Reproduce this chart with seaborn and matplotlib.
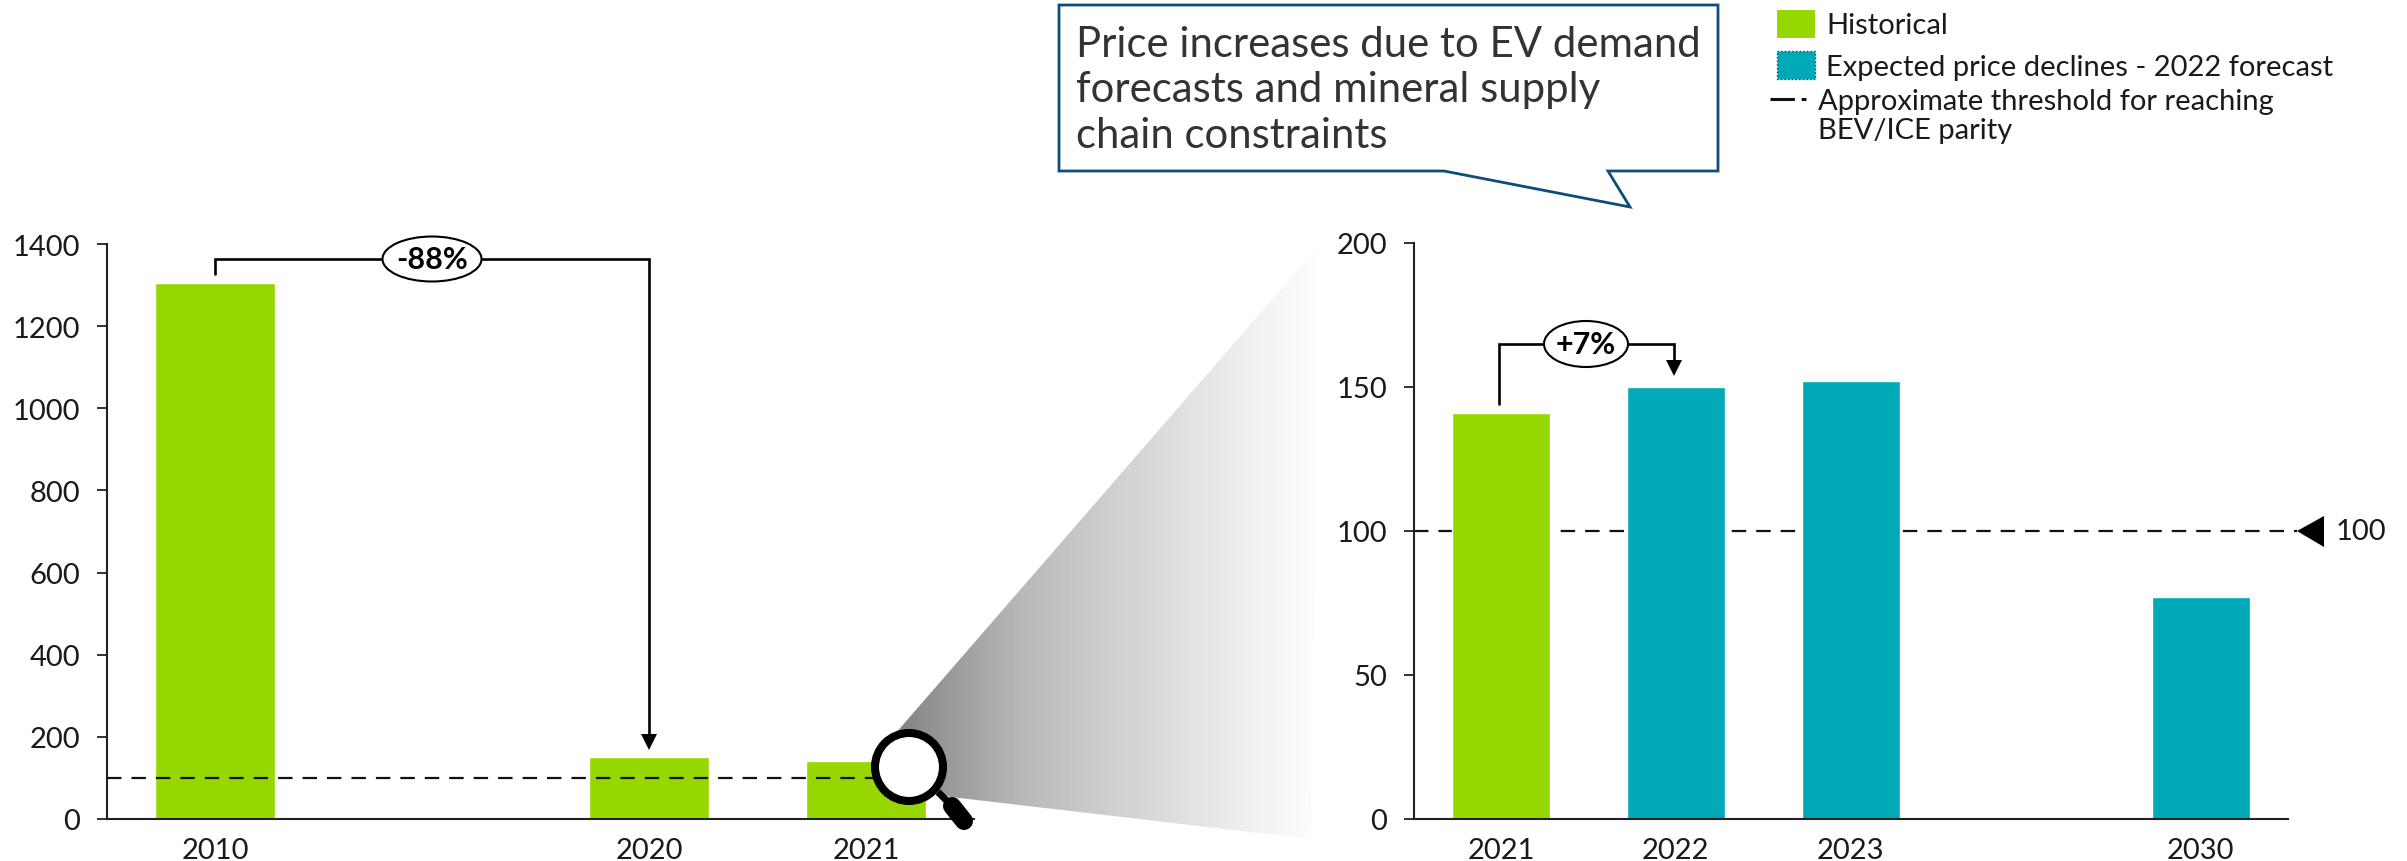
import numpy as np
import pandas as pd
import seaborn as sns
import matplotlib
matplotlib.use("Agg")
import matplotlib.pyplot as plt
from matplotlib.patches import Ellipse, Polygon, Circle, Rectangle

W, H = 2407, 862
GREEN = "#96D700"
TEAL = "#00A9B7"
NAVY = "#0F4C7A"

# blank categories keep the gaps on the time axis
left_years = ["2010", " ", "2020", "2021"]
left_prices = [1306, np.nan, 150, 141]
left_kind = ["Historical", "Historical", "Historical", "Historical"]

right_years = ["2021", "2022", "2023", " ", "2030"]
right_prices = [141, 150, 152, np.nan, 77]
right_kind = ["Historical", "Forecast", "Forecast", "Forecast", "Forecast"]

threshold = 100
left_ticks = [0, 200, 400, 600, 800, 1000, 1200, 1400]
right_ticks = [0, 50, 100, 150, 200]

sns.set_theme(style="white")
plt.rcParams["font.family"] = ["Lato", "DejaVu Sans"]
plt.rcParams["text.color"] = "#1a1a1a"


def make_axes(x0, x1, y0, y1):
    return fig.add_axes([x0 / W, 1 - y1 / H, (x1 - x0) / W, (y1 - y0) / H])


def draw_bars(ax, years, prices, kind, width, ticks, zorder):
    df = pd.DataFrame({"year": years, "price": prices, "kind": kind})
    sns.barplot(data=df, x="year", y="price", hue="kind", order=years, dodge=False,
                palette={"Historical": GREEN, "Forecast": TEAL}, width=width,
                legend=False, ax=ax, zorder=zorder, saturation=1)
    ax.set_xlim(-0.5, len(years) - 0.5)
    ax.set_ylim(ticks[0], ticks[-1])
    ax.set_yticks(ticks)
    ax.set_xlabel("")
    ax.set_ylabel("")
    ax.patch.set_visible(False)
    sns.despine(ax=ax)
    for s in ["left", "bottom"]:
        ax.spines[s].set_linewidth(1.5)
        ax.spines[s].set_color("#222222")
    ax.tick_params(axis="y", left=True, length=7, width=1.3, color="#222222", pad=12,
                   labelsize=21, labelcolor="#1a1a1a")
    ax.tick_params(axis="x", bottom=False, pad=7, labelsize=21, labelcolor="#1a1a1a")


fig = plt.figure(figsize=(W / 100, H / 100), dpi=100, facecolor="white")

ax1 = make_axes(106.5, 974.5, 245, 820)
ax1.axhline(threshold, color="#111111", lw=1.6, dashes=(6.5, 4.5), zorder=5)
draw_bars(ax1, left_years, left_prices, left_kind, 0.553, left_ticks, 2)

ax2 = make_axes(1413.5, 2288, 244, 820)
ax2.axhline(threshold, xmax=(2297 - 1413.5) / (2288 - 1413.5), color="#111111", lw=1.6,
            dashes=(6.5, 4.5), zorder=1, clip_on=False)
draw_bars(ax2, right_years, right_prices, right_kind, 0.56, right_ticks, 2)

# overlay in pixel coordinates for the callouts, legend and zoom wedge
ov = fig.add_axes([0, 0, 1, 1], zorder=10)
ov.set_xlim(0, W)
ov.set_ylim(H, 0)
ov.axis("off")

# gradient wedge
stops_x = [880, 900, 1020, 1100, 1250, 1325]
stops_v = [0.50, 0.52, 0.72, 0.80, 0.94, 1.0]
grad = np.interp(np.arange(880, 1330), stops_x, stops_v)[None, :]
im = ov.imshow(grad, extent=(880, 1330, 860, 240), cmap="gray", vmin=0, vmax=1,
               aspect="auto", zorder=1)
wedge = Polygon([(1322, 243), (895, 735), (900, 785), (951, 798), (1310, 840)],
                closed=True, transform=ov.transData, fc="none", ec="none")
ov.add_patch(wedge)
im.set_clip_path(wedge)
ov.set_xlim(0, W)
ov.set_ylim(H, 0)

# magnifier
ov.plot([938, 952], [793, 807], color="black", lw=5, zorder=6, solid_capstyle="butt")
ov.plot([952, 964], [807, 822], color="black", lw=13, zorder=6, solid_capstyle="round")
ov.add_patch(Circle((909, 768), 34, fc="white", ec="black", lw=5.8, zorder=7))


def bracket(points, tip, ellipse, label):
    xs, ys = zip(*points)
    ov.plot(xs, ys, color="black", lw=1.9, zorder=4, solid_joinstyle="miter")
    end = points[-1]
    ov.add_patch(Polygon([(end[0] - 8, tip - 16), (end[0] + 8, tip - 16), (end[0], tip)],
                         closed=True, fc="black", ec="none", zorder=4))
    cx, cy, ew, eh = ellipse
    ov.add_patch(Ellipse((cx, cy), ew, eh, fc="white", ec="black", lw=1.5, zorder=5))
    ov.text(cx, cy, label, ha="center", va="center", fontsize=22, fontweight="bold",
            color="black", zorder=6)


bracket([(215, 275), (215, 260), (649, 260), (649, 740)], 751, (432, 260, 99, 45), "-88%")
bracket([(1499, 405), (1499, 345), (1674, 345), (1674, 365)], 377, (1586, 345, 84, 46), "+7%")

# threshold marker
ov.add_patch(Polygon([(2297, 532), (2324, 517), (2324, 548)], closed=True, fc="black", ec="none"))
ov.text(2336, 532, "100", ha="left", va="center", fontsize=21)

# speech bubble
ov.add_patch(Polygon([(1059, 6), (1718, 6), (1718, 172), (1608, 172), (1630, 208), (1444, 172), (1059, 172)],
                     closed=True, fc="white", ec=NAVY, lw=2, zorder=3, joinstyle="miter"))
for y, line in zip([45, 90, 136], ["Price increases due to EV demand", "forecasts and mineral supply",
                                   "chain constraints"]):
    ov.text(1076, y, line, ha="left", va="center", fontsize=30.2, color="#333333", zorder=4)

# legend
ov.add_patch(Rectangle((1777, 11), 38, 28, fc=GREEN, ec="none"))
ov.add_patch(Rectangle((1777, 52), 38, 28, fc=TEAL, ec="#123f55", lw=1, ls=":"))
ov.plot([1770, 1806], [100, 100], color="#111111", lw=2.2, dashes=(8, 2.2))
ov.text(1826, 26, "Historical", ha="left", va="center", fontsize=21)
ov.text(1826, 68, "Expected price declines - 2022 forecast", ha="left", va="center", fontsize=21)
ov.text(1818, 102, "Approximate threshold for reaching", ha="left", va="center", fontsize=21)
ov.text(1818, 131, "BEV/ICE parity", ha="left", va="center", fontsize=21)

fig.savefig("out.png", dpi=100)
